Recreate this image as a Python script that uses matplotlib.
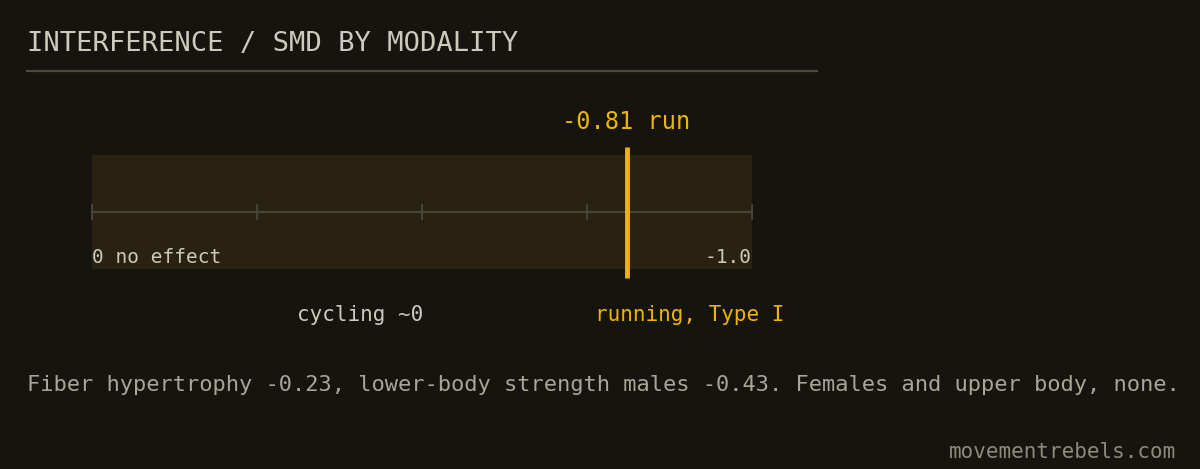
import matplotlib.pyplot as plt

# data
scale_ticks = [0, -0.25, -0.5, -0.75, -1.0]
modalities = ["cycling ~0", "running, Type I"]
modality_smd = [0.0, -0.81]
marker_label = "-0.81 run"
note = "Fiber hypertrophy -0.23, lower-body strength males -0.43. Females and upper body, none."

BG = "#16140f"
BAND = "#2a2210"
YELLOW = "#f0b400"
TEXT = "#cdc9bc"
GREY = "#a9a597"
LINE = "#46443a"

W, H = 1200, 469
fig = plt.figure(figsize=(W / 100, H / 100), dpi=100, facecolor=BG)
plt.rcParams['font.family'] = ['DejaVu Sans Mono']

def px(x, y):
    return x / W, 1 - y / H

# title + rule
fig.text(*px(27, 44), "INTERFERENCE / SMD BY MODALITY", color=TEXT, fontsize=19.5,
         va="center", ha="left")
fig.add_artist(plt.Line2D([27 / W, 817 / W], [1 - 71 / H] * 2, color="#4d493c", lw=1.6))

# scale band
left, right, top, bottom = 92, 752, 155, 269
ax = fig.add_axes([left / W, 1 - bottom / H, (right - left) / W, (bottom - top) / H])
ax.set_facecolor(BAND)
ax.set_xlim(0, -1.0)
ax.set_ylim(0, 1)
for s in ax.spines.values():
    s.set_visible(False)
ax.set_xticks([])
ax.set_yticks([])

ax.plot([scale_ticks[0], scale_ticks[-1]], [0.5, 0.5], color=LINE, lw=1.6, clip_on=False)
ax.vlines(scale_ticks, 0.43, 0.57, color=LINE, lw=1.4, clip_on=False)

run_val = modality_smd[1]
ax.vlines([run_val], -0.08, 1.07, color=YELLOW, lw=3.5, clip_on=False)
ax.text(run_val, 1.18, marker_label, color=YELLOW, fontsize=17, ha="center",
        va="bottom")

ax.text(0, 0.1, "0 no effect", color=TEXT, fontsize=14, ha="left", va="center")
ax.text(-1.0, 0.1, "%.1f" % scale_ticks[-1], color=TEXT, fontsize=14, ha="right",
        va="center")

# modality labels under the band
fig.text(*px(360, 315), modalities[0], color=TEXT, fontsize=15, ha="center", va="center")
fig.text(*px(690, 315), modalities[1], color=YELLOW, fontsize=15, ha="center", va="center")

# footnote + source
fig.text(*px(27, 385), note, color=GREY, fontsize=15.8, ha="left", va="center")
fig.text(*px(1176, 452), "movementrebels.com", color="#8d897b", fontsize=15,
         ha="right", va="center")

fig.savefig("out.png", dpi=100, facecolor=BG)
